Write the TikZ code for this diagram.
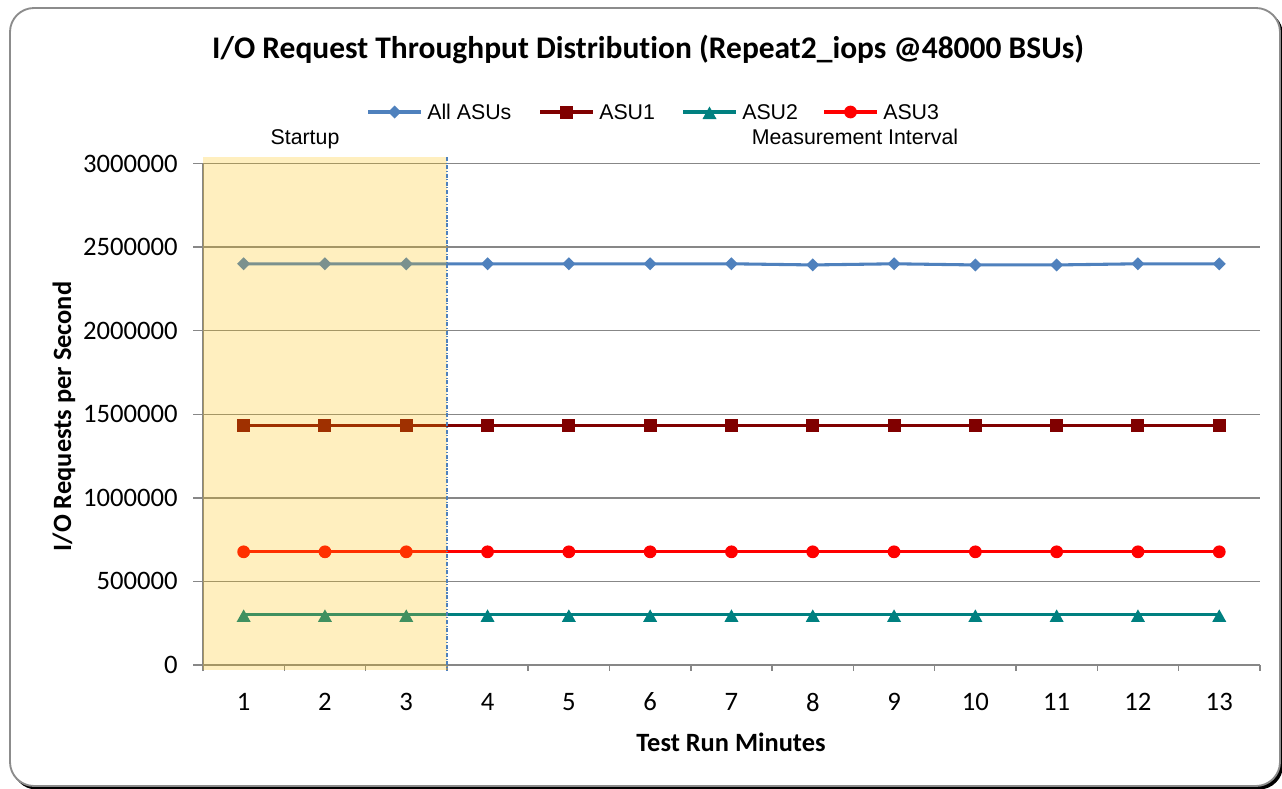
\documentclass[tikz,border=0pt]{standalone}
\usepackage{fontspec}
\setmainfont{Carlito}[Ligatures=NoCommon]
\newfontfamily\legendfont{Liberation Sans}
\definecolor{allc}{HTML}{4F81BD}
\definecolor{asuone}{HTML}{800000}
\definecolor{asutwo}{HTML}{008080}
\definecolor{asuthree}{HTML}{FF0000}
\definecolor{gridc}{HTML}{878787}
\definecolor{shadec}{RGB}{255,195,3}
\definecolor{framec}{HTML}{8C8C8C}

% series markers, sizes in picture units
\newcommand\mkDiamond[1]{\fill[allc] (#1) ++(0,-6.5) -- ++(6.5,6.5) -- ++(-6.5,6.5) -- ++(-6.5,-6.5) -- cycle;}
\newcommand\mkSquare[1]{\fill[asuone] (#1) ++(-6.5,-6.5) rectangle ++(13,13);}
\newcommand\mkTri[1]{\fill[asutwo] (#1) ++(0,-5.5) -- ++(7,12.5) -- ++(-14,0) -- cycle;}
\newcommand\mkCirc[1]{\fill[asuthree] (#1) circle[radius=6.4];}

\begin{document}
\begin{tikzpicture}[x=0.75pt,y=-0.75pt,
  gridline/.style={gridc,line width=1.1pt},
  series/.style={line width=2.3pt},
  ticklbl/.style={inner sep=0pt,font=\fontsize{20pt}{22pt}\selectfont},
  axtitle/.style={inner sep=0pt,font=\fontsize{19.8pt}{21pt}\selectfont\bfseries},
  legtext/.style={inner sep=0pt,font=\legendfont\fontsize{16pt}{18pt}\selectfont},
  phasetext/.style={inner sep=0pt,font=\legendfont\fontsize{16pt}{18pt}\selectfont}]
\useasboundingbox (0,0) rectangle (1282,789);

% chart frame with its shadow
\fill[black,rounded corners=18pt] (12.5,10.5) rectangle (1283,789.5);
\draw[framec,fill=white,line width=1.4pt,rounded corners=18pt] (10,8) rectangle (1280,786);

% title
\node[inner sep=0pt,anchor=base,font=\fontsize{23.6pt}{25pt}\selectfont\bfseries] (title) at (648,58)
  {I/O Request Throughput Distribution (Repeat2\_iops @48000 BSUs)};

% horizontal gridlines and value labels
\foreach \v/\lab [count=\k] in {0/0,500/500000,1000/1000000,1500/1500000,2000/2000000,2500/2500000,3000/3000000}{
  \coordinate (gl\k) at (193,{665-0.16717*\v});
  \coordinate (gr\k) at (1260,{665-0.16717*\v});
  \draw[gridline] (gl\k) -- (gr\k);
  \node[ticklbl,anchor=east] (yl\k) at (178,{665-0.16717*\v}) {\lab};
}
% value axis
\coordinate (yaxB) at (203,671);
\coordinate (yaxT) at (203,163.5);
\draw[gridline] (yaxB) -- (yaxT);
% category ticks and labels
\foreach \k in {1,...,13}{
  \coordinate (xt\k) at ({203+81.3*\k},665);
  \draw[gridline] (xt\k) -- ++(0,6);
  \node[ticklbl] (xl\k) at ({162.35+81.3*\k},702) {\k};
}

% data series
\foreach \v [count=\i] in {2400,2400,2400,2400,2400,2400,2400,2393,2400,2393,2393,2400,2400}
  \coordinate (A\i) at ({162.35+81.3*\i},{665-0.16717*\v});
\foreach \i in {1,...,13}{
  \coordinate (B\i) at ({162.35+81.3*\i},{665-0.16717*1430});
  \coordinate (C\i) at ({162.35+81.3*\i},{665-0.16717*300});
  \coordinate (D\i) at ({162.35+81.3*\i},{665-0.16717*677});
}
\draw[series,allc] (A1) \foreach \i in {2,...,13}{ -- (A\i)};
\draw[series,asuone] (B1) \foreach \i in {2,...,13}{ -- (B\i)};
\draw[series,asutwo] (C1) \foreach \i in {2,...,13}{ -- (C\i)};
\draw[series,asuthree] (D1) \foreach \i in {2,...,13}{ -- (D\i)};
\foreach \i in {1,...,13}{
  \mkDiamond{A\i}
  \mkSquare{B\i}
  \mkTri{C\i}
  \mkCirc{D\i}
}

% startup phase overlay and phase boundary
\fill[shadec,fill opacity=0.25] (203,157) rectangle (447,670);
\coordinate (phT) at (447,157);
\coordinate (phB) at (447,670);
\draw[allc,line width=0.8pt,dash pattern=on 3pt off 1.2pt on 0.8pt off 1.2pt] (phT) -- (phB);
\node[phasetext,anchor=base] (startup) at (305,144) {Startup};
\node[phasetext,anchor=base] (measure) at (855,144) {Measurement Interval};

% legend: line sample, marker, label
\foreach \x/\col/\mk/\lab/\nm in {368/allc/\mkDiamond/All ASUs/la,540/asuone/\mkSquare/ASU1/lb,
                                683/asutwo/\mkTri/ASU2/lc,824/asuthree/\mkCirc/ASU3/ld}{
  \coordinate (\nm1) at (\x,112);
  \coordinate (\nm2) at (\x+53,112);
  \coordinate (\nm m) at (\x+26.5,112);
  \draw[series,\col] (\nm1) -- (\nm2);
  \mk{\nm m}
  \node[legtext,anchor=west] (\nm t) at (\x+59,112) {\lab};
}

% axis titles
\node[axtitle,anchor=base] (xtitle) at (731,751) {Test Run Minutes};
\node[axtitle,anchor=base,rotate=90] (ytitle) at (71,416.5) {I/O Requests per Second};
\end{tikzpicture}
\end{document}
